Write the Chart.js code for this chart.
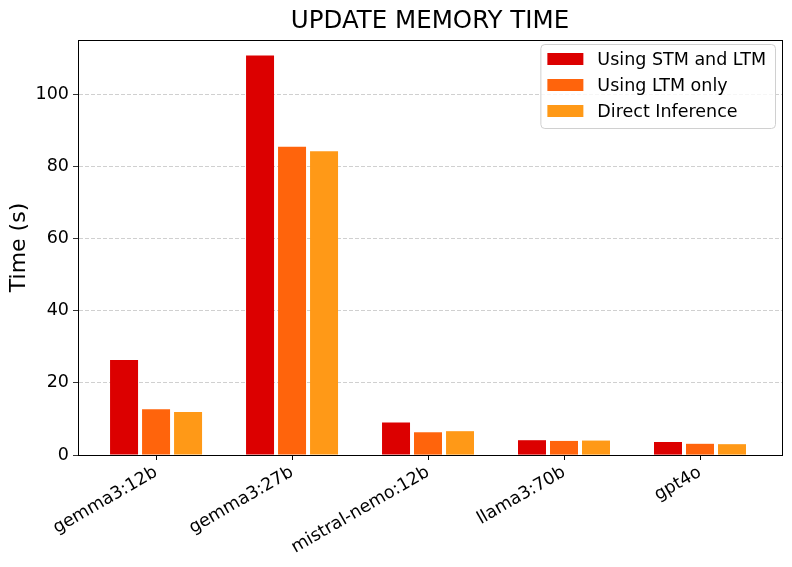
<!DOCTYPE html>
<html>
<head>
<meta charset="utf-8">
<script src="https://cdn.jsdelivr.net/npm/chart.js@4/dist/chart.umd.min.js"></script>
<style>
  html, body { margin: 0; padding: 0; background: #fff; }
  #wrap { width: 792px; height: 567px; }
</style>
</head>
<body>
<div id="wrap"><canvas id="chart" width="792" height="567"></canvas></div>
<script>
// categories and series
var models = ["gemma3:12b", "gemma3:27b", "mistral-nemo:12b", "llama3:70b", "gpt4o"];
var stmLtm = [26.3, 110.7, 9.0, 4.1, 3.6];
var ltmOnly = [12.7, 85.4, 6.3, 3.9, 3.1];
var direct = [11.9, 84.2, 6.6, 4.0, 3.0];
var seriesNames = ["Using STM and LTM", "Using LTM only", "Direct Inference"];
var yTicks = [0, 20, 40, 60, 80, 100];
var chartTitle = "UPDATE MEMORY TIME";

var colors = ["rgb(220,0,0)", "rgb(255,100,12)", "rgb(255,153,23)"];
var FONT = "'DejaVu Sans', 'Liberation Sans', sans-serif";

Chart.defaults.font.family = FONT;
Chart.defaults.color = "#000";

function toPoints(values) {
  return values.map(function(v, i) { return {x: i, y: v}; });
}

var datasets = [stmLtm, ltmOnly, direct].map(function(values, i) {
  return {
    label: seriesNames[i],
    data: toPoints(values),
    backgroundColor: colors[i],
    borderWidth: 0,
    categoryPercentage: 0.706,
    barPercentage: 0.875
  };
});

// box round the plot and the title centred over it, like matplotlib
var frame = {
  id: "frame",
  afterDatasetsDraw: function(chart) {
    var a = chart.chartArea, ctx = chart.ctx;
    ctx.save();
    ctx.strokeStyle = "#000";
    ctx.lineWidth = 1;
    ctx.strokeRect(Math.round(a.left) + 0.5, Math.round(a.top) + 0.5,
                   Math.round(a.right - a.left), Math.round(a.bottom - a.top));
    ctx.font = "24.5px " + FONT;
    ctx.fillStyle = "#000";
    ctx.textAlign = "center";
    ctx.textBaseline = "alphabetic";
    ctx.fillText(chartTitle, (a.left + a.right) / 2, a.top - 12);
    ctx.restore();
  }
};

// legend inside the upper right corner
var innerLegend = {
  id: "innerLegend",
  afterDraw: function(chart) {
    var a = chart.chartArea, ctx = chart.ctx;
    var sets = chart.data.datasets;
    ctx.save();
    ctx.font = "17.5px " + FONT;
    var tw = 0;
    sets.forEach(function(d) { tw = Math.max(tw, ctx.measureText(d.label).width); });
    var w = 57 + tw + 9, h = 84;
    var x = a.right - 7 - w, y = a.top + 4;
    ctx.beginPath();
    ctx.roundRect(x + 0.5, y + 0.5, w, h, 4);
    ctx.fillStyle = "rgba(255,255,255,0.8)";
    ctx.fill();
    ctx.strokeStyle = "#d0d0d0";
    ctx.lineWidth = 1;
    ctx.stroke();
    sets.forEach(function(d, i) {
      var cy = y + 15 + i * 26;
      ctx.fillStyle = d.backgroundColor;
      ctx.fillRect(x + 7, cy - 6, 36, 12);
      ctx.fillStyle = "#000";
      ctx.textBaseline = "middle";
      ctx.textAlign = "left";
      ctx.fillText(d.label, x + 57, cy + 1);
    });
    ctx.restore();
  }
};

var chart = new Chart(document.getElementById("chart"), {
  type: "bar",
  data: { datasets: datasets },
  plugins: [frame, innerLegend],
  options: {
    responsive: false,
    animation: false,
    layout: { padding: { left: 0, right: 10, top: 40, bottom: 0 } },
    plugins: {
      legend: { display: false },
      tooltip: { enabled: false },
      title: { display: false }
    },
    scales: {
      x: {
        type: "linear",
        offset: false,
        min: -0.574,
        max: 4.603,
        afterBuildTicks: function(scale) {
          scale.ticks = models.map(function(m, i) { return {value: i}; });
        },
        afterFit: function(scale) { scale.height = 112; },
        ticks: {
          autoSkip: false,
          maxRotation: 30,
          minRotation: 30,
          padding: 2,
          font: { size: 17.5 },
          callback: function(value) { return models[Math.round(value)]; }
        },
        grid: {
          offset: false,
          drawOnChartArea: false,
          tickLength: 5,
          tickColor: "#000",
          color: "#000"
        },
        border: { color: "#000", width: 1 }
      },
      y: {
        min: 0,
        max: 115,
        afterBuildTicks: function(scale) {
          scale.ticks = yTicks.map(function(v) { return {value: v}; });
        },
        afterFit: function(scale) { scale.width = 78; },
        ticks: {
          font: { size: 17.5 },
          padding: 4
        },
        title: {
          display: true,
          text: "Time (s)",
          color: "#000",
          font: { size: 22 },
          padding: { top: 6, bottom: 0 }
        },
        grid: {
          color: function(c) { return c.tick && c.tick.value === 0 ? "rgba(0,0,0,0)" : "rgba(176,176,176,0.75)"; },
          lineWidth: 0.8,
          tickLength: 5,
          tickColor: "#000",
          tickBorderDash: []
        },
        border: { color: "#000", width: 1, dash: [4, 2] }
      }
    }
  }
});
</script>
</body>
</html>
